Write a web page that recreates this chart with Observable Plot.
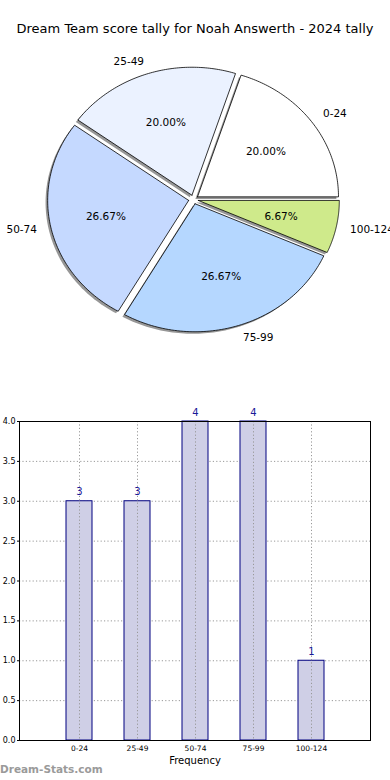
<!DOCTYPE html>
<html><head><meta charset="utf-8">
<script src="https://cdn.jsdelivr.net/npm/d3@7"></script>
<script src="https://cdn.jsdelivr.net/npm/@observablehq/plot@0.6"></script>
<style>
html,body{margin:0;padding:0;background:#fff;width:390px;height:780px;overflow:hidden;font-family:"DejaVu Sans",sans-serif;}
#title{position:absolute;top:21px;left:0;width:390px;text-align:center;font-size:13px;color:#000;white-space:nowrap;}
#pie{position:absolute;top:35px;left:0;}
#bar{position:absolute;top:395px;left:0;}
#wm{position:absolute;top:763px;left:0;font-size:10.5px;font-weight:bold;color:#9a9a9a;}
</style></head>
<body>
<div id="title">Dream Team score tally for Noah Answerth - 2024 tally</div>
<div id="pie"></div>
<div id="bar"></div>
<div id="wm">Dream-Stats.com</div>
<script>
const categories = ["0-24","25-49","50-74","75-99","100-124"];
const counts = [3,3,4,4,1];
const sliceColors = ["#ffffff","#ebf2ff","#c5d9ff","#b5d7ff","#cfea8b"];
const yTicks = [0,0.5,1,1.5,2,2.5,3,3.5,4];

// ---- pie ----
const total = d3.sum(counts);
const explode = 0.035;
const cum = d3.cumsum(counts);
const slices = categories.map((c,i)=>{
  const a1 = (cum[i]-counts[i])/total*2*Math.PI;
  const a2 = cum[i]/total*2*Math.PI;
  const mid = (a1+a2)/2;
  return {cat:c, value:counts[i], a1, a2, mid, ox:explode*Math.cos(mid), oy:explode*Math.sin(mid), color:sliceColors[i]};
});
function polygon(s, sx, sy){
  const pts=[];
  pts.push({key:s.cat, x:s.ox+sx, y:s.oy+sy});
  const n=80;
  for(let k=0;k<=n;k++){
    const t=s.a1+(s.a2-s.a1)*k/n;
    pts.push({key:s.cat, x:s.ox+sx+Math.cos(t), y:s.oy+sy+Math.sin(t)});
  }
  pts.push({key:s.cat, x:s.ox+sx, y:s.oy+sy});
  return pts;
}
const shadowPts = slices.flatMap(s=>polygon(s,-0.015,-0.016));
const slicePts = slices.flatMap(s=>polygon(s,0,0));
const colorOf = Object.fromEntries(slices.map(s=>[s.cat,s.color]));
const pctLabels = slices.map(s=>({x:s.ox+0.6*Math.cos(s.mid), y:s.oy+0.6*Math.sin(s.mid), t:(s.value/total*100).toFixed(2)+"%"}));
const catLabels = slices.map(s=>({x:s.ox+1.1*Math.cos(s.mid), y:s.oy+1.1*Math.sin(s.mid), t:s.cat}));

const PW=390, PH=330, cx=193, cy=164, rx=141, ry=128;
const pie = Plot.plot({
  width:PW, height:PH, margin:0,
  x:{domain:[-cx/rx,(PW-cx)/rx], range:[0,PW], axis:null},
  y:{domain:[-(PH-cy)/ry, cy/ry], range:[PH,0], axis:null},
  style:{fontFamily:"DejaVu Sans", background:"transparent"},
  marks:[
    Plot.line(shadowPts,{x:"x",y:"y",z:"key",fill:"#979797",stroke:"none",curve:"linear"}),
    Plot.line(slicePts,{x:"x",y:"y",z:"key",fill:d=>colorOf[d.key],stroke:"#000",strokeWidth:0.8,curve:"linear"}),
    Plot.text(pctLabels,{x:"x",y:"y",text:"t",fontSize:10.5,fill:"#000"}),
    Plot.text(catLabels.filter(d=>d.x>0),{x:"x",y:"y",text:"t",fontSize:10.5,fill:"#000",textAnchor:"start"}),
    Plot.text(catLabels.filter(d=>d.x<=0),{x:"x",y:"y",text:"t",fontSize:10.5,fill:"#000",textAnchor:"end"})
  ]
});
document.getElementById("pie").appendChild(pie);

// ---- bar ----
const barData = categories.map((c,i)=>({cat:c, n:counts[i]}));
const bar = Plot.plot({
  width:390, height:385, marginTop:26, marginBottom:40, marginLeft:19, marginRight:20,
  style:{fontFamily:"DejaVu Sans", background:"transparent"},
  x:{domain:categories, paddingInner:0.556, paddingOuter:0.778, label:null},
  y:{domain:[0,4], label:null},
  marks:[
    Plot.gridY(yTicks,{stroke:"#999",strokeOpacity:1,strokeDasharray:"1.2,2.2",strokeWidth:1}),
    Plot.barY(barData,{x:"cat",y:"n",fill:"#cfcfe6",stroke:"#000080",strokeWidth:1}),
    Plot.gridX(categories,{stroke:"#999",strokeOpacity:1,strokeDasharray:"1.2,2.2",strokeWidth:1}),
    Plot.text(barData,{x:"cat",y:"n",text:d=>String(d.n),dy:-9,fontSize:10,fill:"#1a1a99"}),
    Plot.axisY(yTicks,{tickFormat:d3.format(".1f"),tickSize:2,tickPadding:2,fontSize:8,fill:"#000",label:null}),
    Plot.axisX({tickSize:0,tickPadding:5,fontSize:7.5,fill:"#000",label:null}),
    Plot.text(["Frequency"],{frameAnchor:"bottom",dy:23,fontSize:10,fill:"#000"}),
    Plot.frame({stroke:"#000",strokeWidth:1})
  ]
});
document.getElementById("bar").appendChild(bar);
</script>
</body></html>
